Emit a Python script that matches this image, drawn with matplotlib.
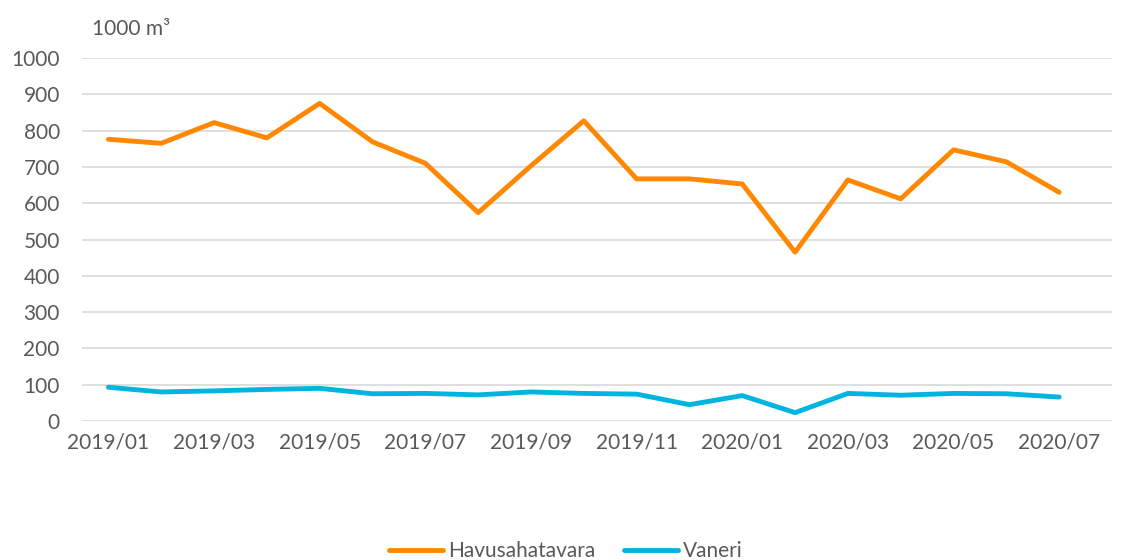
import matplotlib
matplotlib.use("Agg")
import matplotlib.pyplot as plt

months = ["2019/01", "2019/02", "2019/03", "2019/04", "2019/05", "2019/06", "2019/07",
          "2019/08", "2019/09", "2019/10", "2019/11", "2019/12", "2020/01", "2020/02",
          "2020/03", "2020/04", "2020/05", "2020/06", "2020/07"]
havusahatavara = [776, 765, 822, 780, 875, 769, 710, 574, 703, 827, 667, 667, 653, 465,
                  664, 612, 747, 714, 630]
vaneri = [93, 80, 83, 87, 90, 75, 76, 72, 80, 76, 74, 45, 70, 23, 76, 71, 76, 75, 66]
yticks = [0, 100, 200, 300, 400, 500, 600, 700, 800, 900, 1000]

plt.rcParams['font.family'] = ['Lato', 'DejaVu Sans']
txt = '#595959'
fs = 15

fig = plt.figure(figsize=(11.32, 5.6), dpi=100)
ax = fig.add_axes([82/1132, 139/560, (1112-82)/1132, (421-58)/560])

x = list(range(len(months)))
ax.plot(x, havusahatavara, color='#FF8800', lw=3.5, solid_joinstyle='round',
        solid_capstyle='round', label='Havusahatavara', zorder=3)
ax.plot(x, vaneri, color='#00B4E0', lw=3.5, solid_joinstyle='round',
        solid_capstyle='round', label='Vaneri', zorder=3)

ax.set_xlim(-0.5, len(months) - 1 + 1.0)
ax.set_ylim(0, 1000)
ax.set_yticks(yticks)
ax.set_yticklabels([str(v) for v in yticks])
ax.set_xticks(x[::2])
ax.set_xticklabels(months[::2])
ax.tick_params(axis='both', length=0, labelsize=fs, colors=txt)
ax.tick_params(axis='y', pad=16)
ax.tick_params(axis='x', pad=8)
ax.grid(axis='y', color='#D9D9D9', lw=1.2)
ax.set_axisbelow(True)
for s in ax.spines.values():
    s.set_visible(False)

fig.text(92/1132, 1 - 29/560, '1000 m³', fontsize=fs, color=txt, va='center', ha='left')

leg = fig.legend(loc='center', bbox_to_anchor=(0.500, 0.016), ncol=2, frameon=False,
                 fontsize=fs, handlelength=2.6, handletextpad=0.25, columnspacing=1.35,
                 labelcolor=txt)

fig.savefig('out.png', dpi=100)
